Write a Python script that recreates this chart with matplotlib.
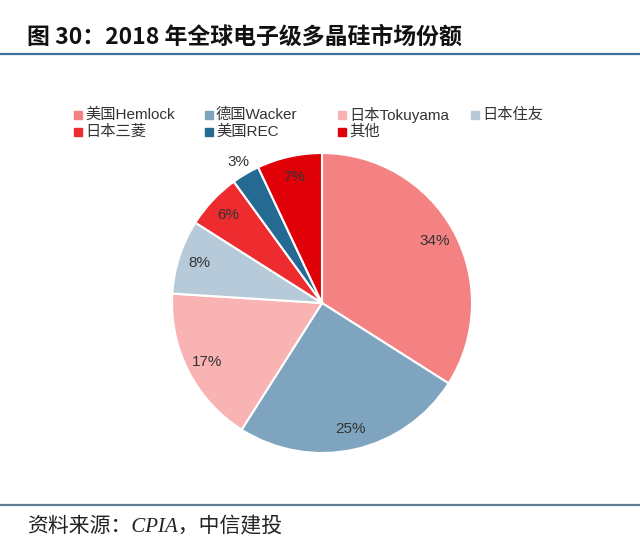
import numpy as np
import matplotlib; matplotlib.use("Agg"); import matplotlib.pyplot as plt
from matplotlib.lines import Line2D

plt.rcParams['font.family'] = ['Liberation Sans', 'Noto Sans CJK SC', 'DejaVu Sans']

# data
names = ["美国Hemlock", "德国Wacker", "日本Tokuyama", "日本住友", "日本三菱", "美国REC", "其他"]
share = [34, 25, 17, 8, 6, 3, 7]
colors = ["#F58282", "#7FA4BF", "#F9B3B3", "#B7CAD9", "#EE2B2E", "#246A92", "#E00008"]

W, H = 640, 552
fig = plt.figure(figsize=(W/100, H/100), dpi=100)

# title + rules
fig.text(27/W, 1-37/H, "图 30：2018 年全球电子级多晶硅市场份额", fontsize=16.5, fontweight="bold",
         family=['Noto Sans CJK SC', 'DejaVu Sans'], va="center", ha="left", color="#111111")
fig.add_artist(Line2D([0, 1], [1-54/H, 1-54/H], color="#3C6E98", lw=1.6))
fig.add_artist(Line2D([0, 1], [1-505/H, 1-505/H], color="#5F7F95", lw=1.6))
fig.text(27/W, 1-527/H, "资料来源：CPIA，中信建投", fontsize=15, style="italic",
         family=['Liberation Serif', 'Noto Sans CJK SC'], va="center", ha="left", color="#222222")

# pie
cx, cy, r = 322, 303, 150
ax = fig.add_axes([(cx-r)/W, 1-(cy+r)/H, 2*r/W, 2*r/H])
wedges, texts, autotexts = ax.pie(share, colors=colors, startangle=90, counterclock=False,
                                  autopct="%.0f%%", pctdistance=0.86,
                                  wedgeprops=dict(edgecolor="white", linewidth=1.5),
                                  textprops=dict(fontsize=11, color="#333333"))
for w, t in zip(wedges, autotexts):
    if t.get_text() == "3%":
        ang = np.deg2rad((w.theta1 + w.theta2) / 2)
        t.set_position((1.09*np.cos(ang), 1.09*np.sin(ang)))
ax.set_xlim(-1, 1); ax.set_ylim(-1, 1); ax.set_aspect("equal")
ax.axis("off")

# legend, 4 columns, row-major
col_x = [78, 209, 342, 475]
row_y = [115, 132]
for i, (nm, c) in enumerate(zip(names, colors)):
    x, y = col_x[i % 4], row_y[i // 4]
    fig.add_artist(Line2D([x/W], [1-y/H], marker="s", ms=5.5, color=c, lw=0))
    fig.text((x+7)/W, 1-y/H, nm, fontsize=11, va="center", ha="left", color="#333333")

fig.savefig("out.png", dpi=100)
